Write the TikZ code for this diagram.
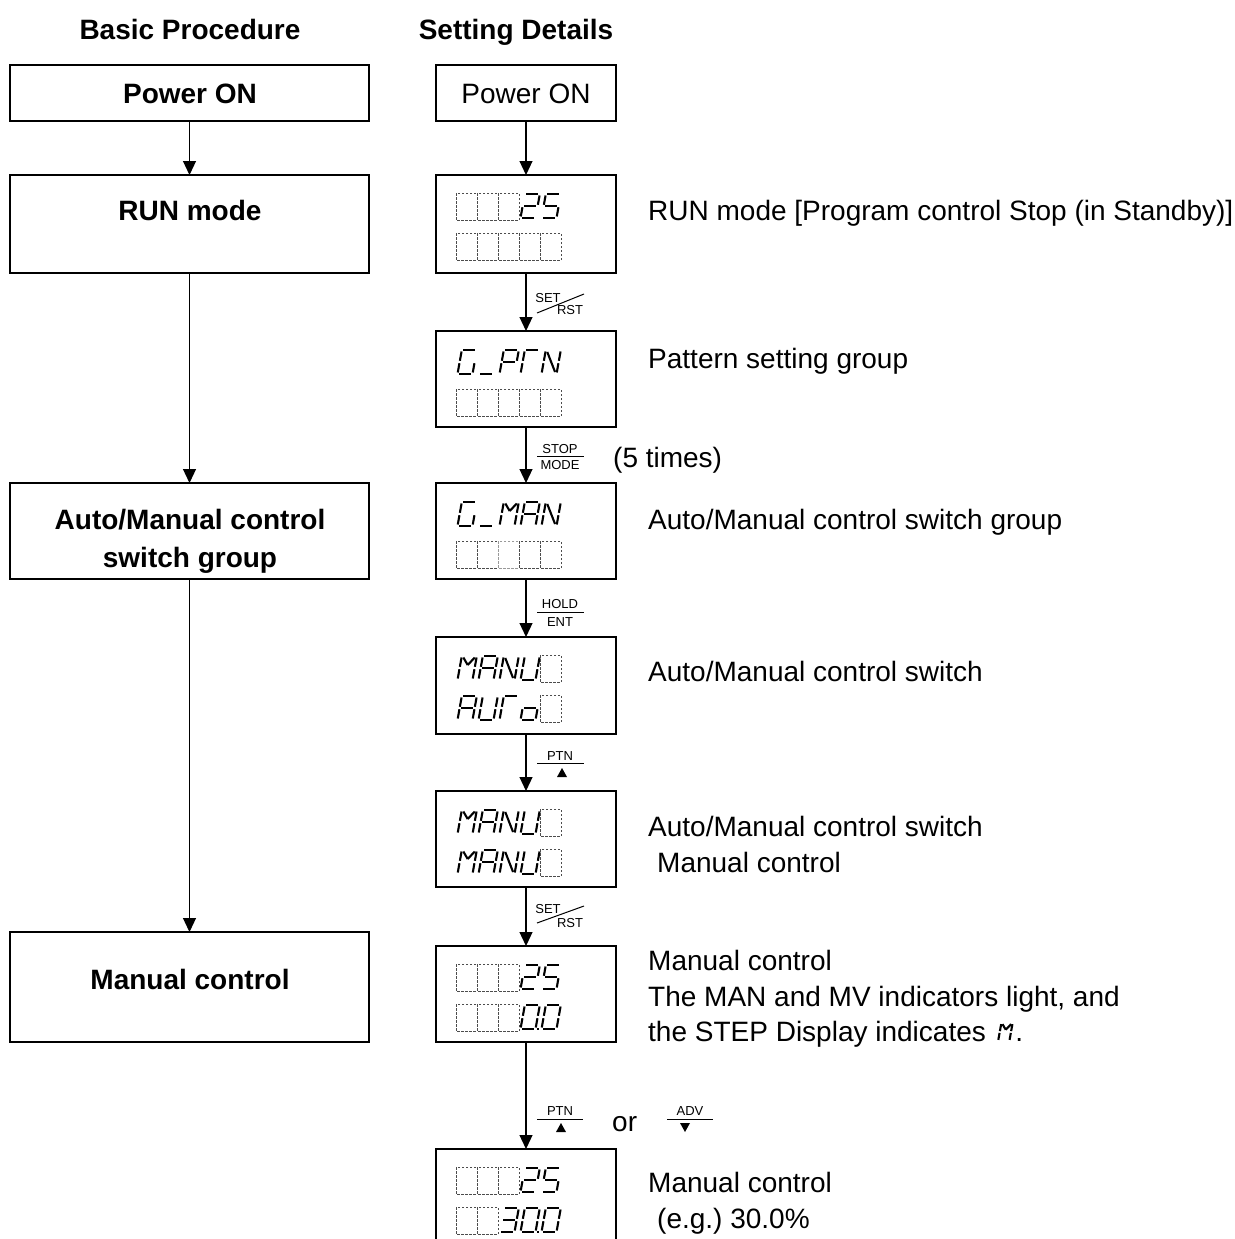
\documentclass[tikz,border=0pt]{standalone}
\usepackage{fontspec}
\setmainfont{Liberation Sans}
\usetikzlibrary{arrows.meta,calc}
\frenchspacing
\tikzset{
  box/.style={draw, line width=1.2pt, inner sep=0pt, outer sep=0pt},
  arr/.style={line width=1.2pt, -{Triangle[length=14pt,width=13pt]}},
  txt/.style={font=\fontsize{28}{34}\selectfont, inner sep=0pt, anchor=base west},
  ctxt/.style={font=\fontsize{28}{34}\selectfont, inner sep=0pt, anchor=base},
  btxt/.style={font=\fontsize{28}{34}\selectfont\bfseries, inner sep=0pt, anchor=base},
  key/.style={font=\fontsize{13}{15}\selectfont, inner sep=0pt, anchor=base},
  segline/.style={line width=2.1pt},
  dcell/.style={draw=black!70, line width=0.9pt, dash pattern=on 2.5pt off 1.5pt},
  keyline/.style={line width=1pt},
}
\newcommand\glyph[3][1]{%
 \begin{scope}[shift={#2}, x=1pt, y=1pt, xslant=0.18, scale=#1]
  \coordinate (sa1) at (1.5,24); \coordinate (sa2) at (13.5,24);
  \coordinate (sb1) at (15,22.5); \coordinate (sb2) at (15,13.2);
  \coordinate (sc1) at (15,10.8); \coordinate (sc2) at (15,1.5);
  \coordinate (sd1) at (1.5,0); \coordinate (sd2) at (13.5,0);
  \coordinate (se1) at (0,10.8); \coordinate (se2) at (0,1.5);
  \coordinate (sf1) at (0,22.5); \coordinate (sf2) at (0,13.2);
  \coordinate (sg1) at (1.5,12); \coordinate (sg2) at (13.5,12);
  \coordinate (sm1) at (1.8,22.5); \coordinate (sm2) at (7.5,15);
  \coordinate (sq1) at (7.5,15); \coordinate (sq2) at (13.2,22.5);
  \coordinate (sn1) at (1.8,22); \coordinate (sn2) at (13.2,2);
  \coordinate (sp1) at (16.3,0); \coordinate (sp2) at (18.5,0);
  \foreach \s in {#3}{\draw[segline] (s\s1) -- (s\s2);}
 \end{scope}}
\newcommand\sevseg[3]{\glyph{({#1+1.5},{#2+25})}{#3}}
\newcommand\dcel[2]{\draw[dcell] (#1,#2) rectangle ++(21,27);}
\begin{document}
\begin{tikzpicture}[x=1pt,y=-1pt]
\useasboundingbox (0,0) rectangle (1234,1239);
\clip (0,0) rectangle (1234,1239);

% headers
\node[btxt] (h1) at (190,40) {Basic Procedure};
\node[btxt] (h2) at (516,40) {Setting Details};

% left column
\node[box, minimum width=359pt, minimum height=56pt] (l1) at (189.5,93) {};
\node[btxt] (l1t) at (190,103) {Power ON};
\node[box, minimum width=359pt, minimum height=98pt] (l2) at (189.5,224) {};
\node[btxt] (l2t) at (190,220) {RUN mode};
\node[box, minimum width=359pt, minimum height=96pt] (l3) at (189.5,531) {};
\node[btxt] (l3t) at (190,529) {Auto/Manual control};
\node[btxt] (l3u) at (190,567) {switch group};
\node[box, minimum width=359pt, minimum height=110pt] (l4) at (189.5,987) {};
\node[btxt] (l4t) at (190,989) {Manual control};
\draw[arr] (l1) -- (l2);
\draw[arr] (l2) -- (l3);
\draw[arr] (l3) -- (l4);

% right column boxes
\node[box, minimum width=180pt, minimum height=56pt] (r1) at (526,93) {};
\node[ctxt] (r1t) at (526,103) {Power ON};
\node[box, minimum width=180pt, minimum height=98pt] (r2) at (526,224) {};
\node[box, minimum width=180pt, minimum height=96pt] (r3) at (526,379) {};
\node[box, minimum width=180pt, minimum height=96pt] (r4) at (526,531) {};
\node[box, minimum width=180pt, minimum height=97pt] (r5) at (526,685.5) {};
\node[box, minimum width=180pt, minimum height=96pt] (r6) at (526,839) {};
\node[box, minimum width=180pt, minimum height=96pt] (r7) at (526,994) {};
\node[box, minimum width=180pt, minimum height=96pt] (r8) at (526,1197) {};
\draw[arr] (r1) -- (r2);
\draw[arr] (r2) -- (r3);
\draw[arr] (r3) -- (r4);
\draw[arr] (r4) -- (r5);
\draw[arr] (r5) -- (r6);
\draw[arr] (r6) -- (r7);
\draw[arr] (r7) -- (r8);

% key labels
\node[key] (k1a) at (548,302) {SET};
\node[key] (k1b) at (570,314) {RST};
\draw[keyline] (537,313) -- (584,294);
\node[key] (k2a) at (560,453) {STOP};
\draw[keyline] (537,456) -- (584,456);
\node[key] (k2b) at (560,469) {MODE};
\node[txt] (k2c) at (613,467) {(5 times)};
\node[key] (k3a) at (560,608) {HOLD};
\draw[keyline] (537,612) -- (584,612);
\node[key] (k3b) at (560,626) {ENT};
\node[key] (k4a) at (560,760) {PTN};
\draw[keyline] (537,763) -- (584,763);
\fill (557,777) -- (567,777) -- (562,768) -- cycle;
\node[key] (k5a) at (548,913) {SET};
\node[key] (k5b) at (570,927) {RST};
\draw[keyline] (537,923) -- (584,906);
\node[key] (k6a) at (560,1115) {PTN};
\draw[keyline] (537,1119) -- (583,1119);
\fill (556,1132) -- (566,1132) -- (561,1123) -- cycle;
\node[txt] (k6or) at (612,1131) {or};
\node[key] (k7a) at (690,1115) {ADV};
\draw[keyline] (667,1119) -- (713,1119);
\fill (685,1132) -- (680,1123) -- (690,1123) -- cycle;

% right texts
\node[txt] (d2) at (648,220) {RUN mode [Program control Stop (in Standby)]};
\node[txt] (d3) at (648,368) {Pattern setting group};
\node[txt] (d4) at (648,529) {Auto/Manual control switch group};
\node[txt] (d5) at (648,681) {Auto/Manual control switch};
\node[txt] (d6) at (648,836) {Auto/Manual control switch};
\node[txt] (d6b) at (657,872) {Manual control};
\node[txt] (d7) at (648,970) {Manual control};
\node[txt] (d7b) at (648,1006) {The MAN and MV indicators light, and};
\node[txt] (d7c) at (648,1041) {the STEP Display indicates};
\glyph[0.75]{($(d7c.base east)+(12,0)$)}{f,e,b,c,m,q}
\node[txt] (d7d) at ($(d7c.base east)+(29,0)$) {.};
\node[txt] (d8) at (648,1192) {Manual control};
\node[txt] (d8b) at (657,1228) {(e.g.) 30.0\%};

% displays: RUN
\dcel{456}{193}\dcel{477}{193}\dcel{498}{193}
\sevseg{519}{193}{a,b,g,e,d}\sevseg{540}{193}{a,f,g,c,d}
\dcel{456}{233}\dcel{477}{233}\dcel{498}{233}\dcel{519}{233}\dcel{540}{233}
% G_PTN
\sevseg{456}{349}{a,f,e,d,c}\sevseg{477}{349}{d}\sevseg{498}{349}{a,b,f,g,e}
\sevseg{519}{349}{a,f,e}\sevseg{540}{349}{f,e,b,c,n}
\dcel{456}{389}\dcel{477}{389}\dcel{498}{389}\dcel{519}{389}\dcel{540}{389}
% G_MAN
\sevseg{456}{501}{a,f,e,d,c}\sevseg{477}{501}{d}\sevseg{498}{501}{f,e,b,c,m,q}
\sevseg{519}{501}{a,b,c,e,f,g}\sevseg{540}{501}{f,e,b,c,n}
\dcel{456}{541}\dcel{477}{541}\draw[dcell,draw=black!40] (498,541) rectangle ++(21,27);\dcel{519}{541}\dcel{540}{541}
% MANU / AUTo
\sevseg{456}{655}{f,e,b,c,m,q}\sevseg{477}{655}{a,b,c,e,f,g}\sevseg{498}{655}{f,e,b,c,n}
\sevseg{519}{655}{f,e,d,c,b}\dcel{540}{655}
\sevseg{456}{695}{a,b,c,e,f,g}\sevseg{477}{695}{f,e,d,c,b}\sevseg{498}{695}{a,f,e}
\sevseg{519}{695}{g,c,d,e}\dcel{540}{695}
% MANU / MANU
\sevseg{456}{809}{f,e,b,c,m,q}\sevseg{477}{809}{a,b,c,e,f,g}\sevseg{498}{809}{f,e,b,c,n}
\sevseg{519}{809}{f,e,d,c,b}\dcel{540}{809}
\sevseg{456}{849}{f,e,b,c,m,q}\sevseg{477}{849}{a,b,c,e,f,g}\sevseg{498}{849}{f,e,b,c,n}
\sevseg{519}{849}{f,e,d,c,b}\dcel{540}{849}
% Manual 25 / 0.0
\dcel{456}{964}\dcel{477}{964}\dcel{498}{964}
\sevseg{519}{964}{a,b,g,e,d}\sevseg{540}{964}{a,f,g,c,d}
\dcel{456}{1004}\dcel{477}{1004}\dcel{498}{1004}
\sevseg{519}{1004}{a,b,c,d,e,f,p}\sevseg{540}{1004}{a,b,c,d,e,f}
% Manual 25 / 30.0
\dcel{456}{1167}\dcel{477}{1167}\dcel{498}{1167}
\sevseg{519}{1167}{a,b,g,e,d}\sevseg{540}{1167}{a,f,g,c,d}
\dcel{456}{1207}\dcel{477}{1207}
\sevseg{498}{1207}{a,b,g,c,d}\sevseg{519}{1207}{a,b,c,d,e,f,p}\sevseg{540}{1207}{a,b,c,d,e,f}
\end{tikzpicture}
\end{document}
